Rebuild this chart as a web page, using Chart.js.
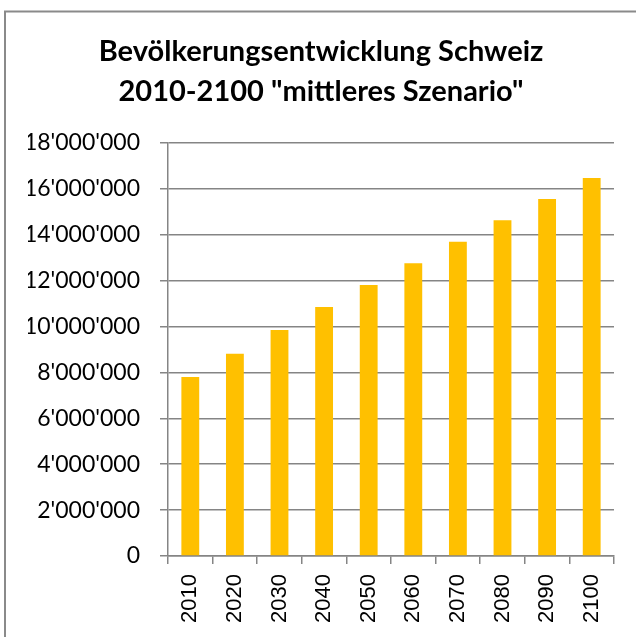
<!DOCTYPE html>
<html>
<head>
<meta charset="utf-8">
<script src="https://cdn.jsdelivr.net/npm/chart.js@4"></script>
<style>
  html, body { margin: 0; padding: 0; background: #fff; }
  #wrap { width: 636px; height: 637px; }
</style>
</head>
<body>
<div id="wrap"><canvas id="chart" width="636" height="637"></canvas></div>
<script>
// Data
const years = ["2010", "2020", "2030", "2040", "2050", "2060", "2070", "2080", "2090", "2100"];
const population = [7800000, 8810000, 9850000, 10850000, 11810000, 12760000, 13700000, 14630000, 15560000, 16480000];
const titleLines = ["Bevölkerungsentwicklung Schweiz", "2010-2100 \"mittleres Szenario\""];

// 18000000 -> 18'000'000
function swissFormat(v) {
    return String(v).replace(/\B(?=(\d{3})+(?!\d))/g, "'");
}

// Outer frame of the chart (only the top and left edges are visible)
const framePlugin = {
    id: "frame",
    beforeDraw(chart) {
        const ctx = chart.ctx;
        ctx.save();
        ctx.strokeStyle = "#8a8a8a";
        ctx.lineWidth = 2;
        ctx.beginPath();
        ctx.moveTo(5, chart.height);
        ctx.lineTo(5, 11.5);
        ctx.lineTo(chart.width, 11.5);
        ctx.stroke();
        ctx.restore();
    }
};

const ctx = document.getElementById("chart").getContext("2d");
new Chart(ctx, {
    type: "bar",
    data: {
        labels: years,
        datasets: [{
            data: population,
            backgroundColor: "#FFC000",
            barPercentage: 0.4,
            categoryPercentage: 1.0
        }]
    },
    options: {
        responsive: false,
        animation: false,
        layout: { padding: { left: 28, right: 22, top: 0, bottom: 0 } },
        plugins: {
            legend: { display: false },
            tooltip: { enabled: false },
            title: {
                display: true,
                text: titleLines,
                color: "#000",
                font: { family: "Lato", size: 29, weight: "bold", lineHeight: 40.5 / 29 },
                padding: { top: 31, bottom: 31 }
            }
        },
        scales: {
            x: {
                afterFit(scale) { scale.height = 81; },
                grid: {
                    display: true,
                    drawOnChartArea: false,
                    offset: true,
                    color: "#858585",
                    lineWidth: 1.5,
                    tickLength: 8
                },
                border: { color: "#858585", width: 1.5 },
                ticks: {
                    minRotation: 90,
                    maxRotation: 90,
                    padding: 10,
                    color: "#000",
                    font: { family: "Liberation Sans", size: 22 }
                }
            },
            y: {
                min: 0,
                max: 18000000,
                afterFit(scale) { scale.width = 140; },
                grid: {
                    color: "#858585",
                    lineWidth: 1.5,
                    tickLength: 8
                },
                border: { color: "#858585", width: 1.5 },
                ticks: {
                    stepSize: 2000000,
                    padding: 20,
                    color: "#000",
                    font: { family: "Lato", size: 23 },
                    callback: v => swissFormat(v)
                }
            }
        }
    },
    plugins: [framePlugin]
});
</script>
</body>
</html>
